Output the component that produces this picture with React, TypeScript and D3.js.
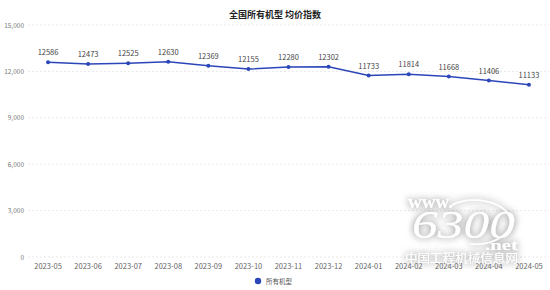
import React from "react";
import * as d3 from "d3";

const categories = ["2023-05","2023-06","2023-07","2023-08","2023-09","2023-10","2023-11","2023-12","2024-01","2024-02","2024-03","2024-04","2024-05"];
const values = [12586,12473,12525,12630,12369,12155,12280,12302,11733,11814,11668,11406,11133];
const yTicks = [0,3000,6000,9000,12000,15000];
const title = "全国所有机型 均价指数";
const seriesName = "所有机型";

export default function App() {
  const W = 550, H = 290;
  const left = 28, right = 549, top = 25, bottom = 257;
  const x = d3.scalePoint<string>().domain(categories).range([left, right]).padding(0.5);
  const y = d3.scaleLinear().domain([0, 15000]).range([bottom, top]);
  const line = d3.line<number>().x((_, i) => x(categories[i])!).y(d => y(d));
  const fmt = d3.format(",");
  const font = "'Noto Sans CJK SC', 'Noto Sans', sans-serif";
  const color = "#2b46b8";
  return (
    <svg width={W} height={H} style={{ position: "absolute", left: 0, top: 0, background: "#fff" }} fontFamily={font}>
      <defs>
        <filter id="wm" x="-30%" y="-30%" width="160%" height="160%">
          <feGaussianBlur in="SourceAlpha" stdDeviation="3.5" result="b" />
          <feFlood floodColor="#7a7a7a" floodOpacity="0.55" />
          <feComposite in2="b" operator="in" result="s" />
          <feMerge>
            <feMergeNode in="s" />
            <feMergeNode in="s" />
            <feMergeNode in="SourceGraphic" />
          </feMerge>
        </filter>
      </defs>
      <rect width={W} height={H} fill="#fff" />
      <text x={275} y={18} textAnchor="middle" fontSize={9} fontWeight="bold" fill="#222">{title}</text>
      {yTicks.map(t => (
        <g key={t}>
          <line x1={left} x2={right} y1={y(t)} y2={y(t)} stroke="#e3e3e3" strokeDasharray="2,2" strokeWidth={0.8} />
          <text x={24} y={y(t) + 2.5} textAnchor="end" fontSize={6.5} fill="#777">{fmt(t)}</text>
        </g>
      ))}
      {categories.map(c => (
        <text key={c} x={x(c)!} y={269} textAnchor="middle" fontSize={7.5} fill="#666">{c}</text>
      ))}
      <path d={line(values)!} fill="none" stroke={color} strokeWidth={1.5} />
      {values.map((v, i) => (
        <g key={i}>
          <circle cx={x(categories[i])!} cy={y(v)} r={2} fill={color} />
          <text x={x(categories[i])!} y={y(v) - 7} textAnchor="middle" fontSize={7.5} fill="#444">{v}</text>
        </g>
      ))}
      <circle cx={258} cy={281} r={3.2} fill={color} />
      <text x={266} y={283.5} fontSize={6.5} fill="#555">{seriesName}</text>
      <g filter="url(#wm)" fill="#fff">
        <path d="M 452 205 A 36 22 0 1 1 470 244" fill="none" stroke="#fff" strokeWidth={1.5} />
        <text x={408} y={208} fontSize={19} fontFamily="'Liberation Serif', serif" fontWeight="bold" textLength={45} lengthAdjust="spacingAndGlyphs">www.</text>
        <text x={412} y={238} fontSize={40} fontStyle="italic" fontFamily="'Liberation Serif', serif" textLength={103} lengthAdjust="spacingAndGlyphs">6300</text>
        <text x={485} y={250} fontSize={15} fontFamily="'Liberation Serif', serif" fontWeight="bold" textLength={33} lengthAdjust="spacingAndGlyphs">.net</text>
        <text x={405} y={263} fontSize={12} textLength={113} lengthAdjust="spacingAndGlyphs">中国工程机械信息网</text>
      </g>
    </svg>
  );
}
